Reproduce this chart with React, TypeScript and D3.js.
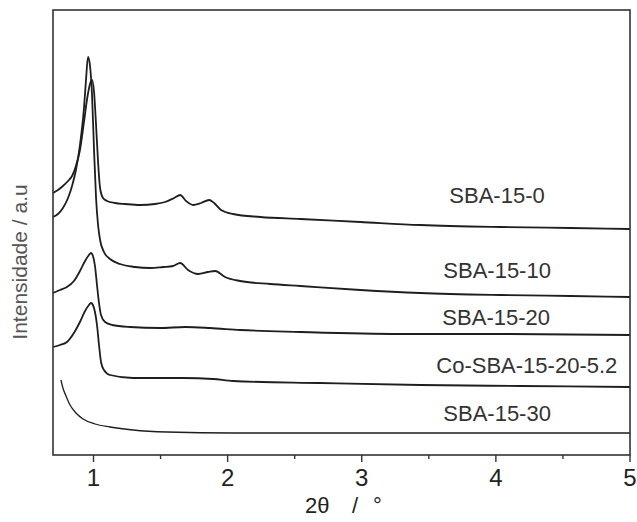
import { useRef, useEffect } from 'react';
import * as d3 from 'd3';

// patterns: [2θ (°), intensity (a.u.)]
const sba0: [number, number][] = [
  [0.698, 262], [0.735, 265], [0.772, 269], [0.81, 274], [0.84, 279], [0.869, 289],
  [0.899, 305], [0.929, 333], [0.951, 355], [0.974, 371], [0.989, 375], [1.004, 363],
  [1.019, 330], [1.034, 293], [1.049, 267], [1.071, 257], [1.101, 254], [1.16, 252],
  [1.235, 251], [1.347, 250], [1.459, 251], [1.534, 253], [1.601, 257], [1.646, 260],
  [1.69, 254], [1.743, 250], [1.802, 252], [1.862, 255], [1.899, 252], [1.951, 245],
  [2.041, 241], [2.243, 238], [2.541, 236], [2.989, 233], [3.437, 230], [4.033, 228],
  [4.556, 227], [5.0, 226],
];
const sba10: [number, number][] = [
  [0.698, 238], [0.735, 241], [0.772, 247], [0.81, 257], [0.84, 269], [0.869, 285],
  [0.899, 310], [0.929, 347], [0.944, 375], [0.959, 398], [0.974, 389], [0.989, 360],
  [1.004, 305], [1.019, 257], [1.034, 230], [1.049, 215], [1.078, 203], [1.123, 196],
  [1.198, 191], [1.31, 188], [1.422, 187], [1.519, 188], [1.593, 189], [1.646, 192],
  [1.705, 185], [1.78, 181], [1.854, 183], [1.907, 184], [1.981, 178], [2.093, 174],
  [2.317, 171], [2.541, 169], [2.989, 165], [3.437, 162], [4.033, 160], [4.556, 159],
  [5.0, 158],
];
const sba20: [number, number][] = [
  [0.698, 162], [0.75, 165], [0.802, 168], [0.854, 174], [0.899, 184], [0.937, 194],
  [0.966, 200], [0.981, 202], [0.996, 199], [1.011, 189], [1.026, 170], [1.041, 152],
  [1.056, 140], [1.086, 133], [1.138, 130], [1.272, 128], [1.496, 127], [1.683, 128],
  [1.869, 127], [2.093, 125], [2.541, 123], [3.287, 121], [4.033, 121], [5.0, 120],
];
const coSba: [number, number][] = [
  [0.698, 108], [0.75, 110], [0.802, 113], [0.854, 122], [0.899, 133], [0.937, 144],
  [0.966, 150], [0.981, 152], [0.996, 150], [1.011, 143], [1.026, 130], [1.041, 110],
  [1.056, 93], [1.078, 85], [1.123, 80], [1.295, 77], [1.668, 77], [1.892, 76],
  [2.041, 74], [2.69, 72], [3.437, 70], [4.183, 69], [5.0, 68],
];
const sba30: [number, number][] = [
  [0.757, 75], [0.772, 67], [0.795, 59], [0.825, 50], [0.869, 42], [0.922, 36],
  [1.011, 31], [1.123, 28], [1.295, 25], [1.549, 23], [2.041, 22], [2.668, 22],
  [5.0, 22],
];

const seriesNames = ['SBA-15-0', 'SBA-15-10', 'SBA-15-20', 'Co-SBA-15-20-5.2', 'SBA-15-30'];
const seriesData = [sba0, sba10, sba20, coSba, sba30];
// label anchor (left edge, baseline) in data units
const labelPos: [number, number][] = [[3.653, 252], [3.608, 177], [3.601, 130], [3.556, 82], [3.608, 34]];

const majorTicks = [1, 2, 3, 4, 5];
const minorTicks = [1.5, 2.5, 3.5, 4.5];

const W = 637;
const H = 522;

export default function App() {
  const svgRef = useRef<SVGSVGElement>(null);

  useEffect(() => {
    const margin = { top: 10, right: 7, bottom: 67, left: 53 };
    const svg = d3.select(svgRef.current).html('');

    const x = d3.scaleLinear().domain([0.698, 5]).range([margin.left, W - margin.right]);
    const y = d3.scaleLinear().domain([0, 445]).range([H - margin.bottom, margin.top]);

    const font = '"Liberation Sans", Arial, sans-serif';

    // curves
    const line = d3.line<[number, number]>()
      .x(d => x(d[0]))
      .y(d => y(d[1]))
      .curve(d3.curveMonotoneX);

    svg.append('g')
      .selectAll('path')
      .data(seriesData)
      .enter()
      .append('path')
      .attr('d', d => line(d))
      .attr('fill', 'none')
      .attr('stroke', '#1e1e1e')
      .attr('stroke-width', (d, i) => (i === 4 ? 1.3 : 1.8))
      .attr('stroke-linejoin', 'round');

    // labels
    svg.append('g')
      .selectAll('text')
      .data(seriesNames)
      .enter()
      .append('text')
      .attr('x', (d, i) => x(labelPos[i][0]))
      .attr('y', (d, i) => y(labelPos[i][1]))
      .attr('font-family', font)
      .attr('font-size', 22)
      .attr('fill', '#333')
      .text(d => d);

    // frame
    svg.append('rect')
      .attr('x', margin.left)
      .attr('y', margin.top)
      .attr('width', W - margin.left - margin.right)
      .attr('height', H - margin.top - margin.bottom)
      .attr('fill', 'none')
      .attr('stroke', '#333')
      .attr('stroke-width', 1.6);

    // x axis ticks
    const axisY = H - margin.bottom;
    const gx = svg.append('g');
    gx.selectAll('.major')
      .data(majorTicks)
      .enter()
      .append('line')
      .attr('x1', d => x(d))
      .attr('x2', d => x(d))
      .attr('y1', axisY)
      .attr('y2', axisY + 7)
      .attr('stroke', '#333')
      .attr('stroke-width', 1.4);
    gx.selectAll('.minor')
      .data(minorTicks)
      .enter()
      .append('line')
      .attr('x1', d => x(d))
      .attr('x2', d => x(d))
      .attr('y1', axisY)
      .attr('y2', axisY + 4)
      .attr('stroke', '#333')
      .attr('stroke-width', 1.4);
    gx.selectAll('text')
      .data(majorTicks)
      .enter()
      .append('text')
      .attr('x', d => x(d))
      .attr('y', axisY + 31)
      .attr('text-anchor', 'middle')
      .attr('font-family', font)
      .attr('font-size', 24)
      .attr('fill', '#222')
      .text(d => d);

    // x axis title
    const xt = svg.append('text')
      .attr('y', H - 9)
      .attr('font-family', font)
      .attr('font-size', 22)
      .attr('fill', '#222');
    xt.append('tspan').attr('x', 305).text('2θ');
    xt.append('tspan').attr('x', 352).text('/');
    xt.append('tspan').attr('x', 373).text('°');

    // y axis title
    svg.append('text')
      .attr('transform', `translate(27, 262) rotate(-90)`)
      .attr('text-anchor', 'middle')
      .attr('font-family', font)
      .attr('font-size', 21)
      .attr('fill', '#555')
      .text('Intensidade / a.u');
  }, []);

  return (
    <svg
      ref={svgRef}
      width={W}
      height={H}
      style={{ position: 'absolute', left: 0, top: 0, background: '#fff' }}
    />
  );
}
